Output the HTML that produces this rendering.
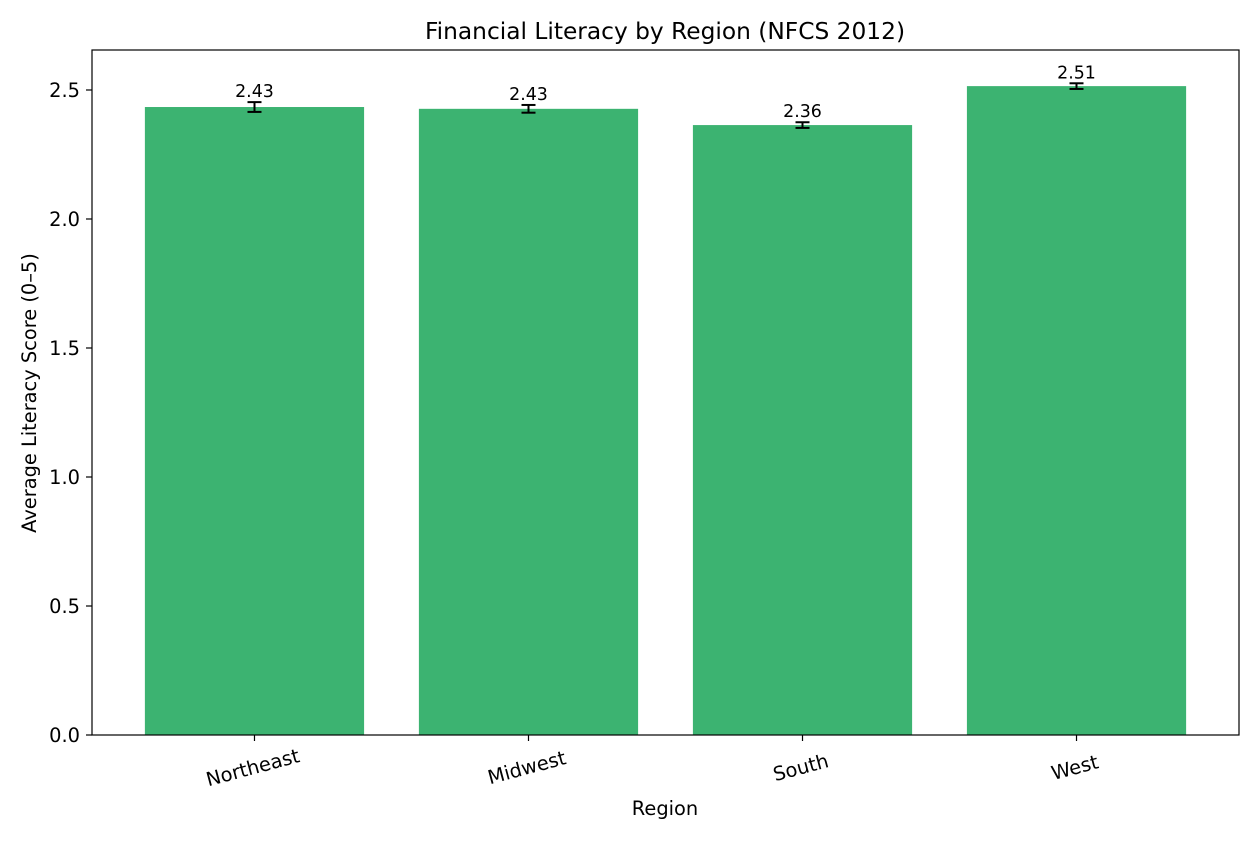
<!DOCTYPE html>
<html><head><meta charset="utf-8"><style>
body{margin:0;background:#fff;font-family:"DejaVu Sans",sans-serif;}
svg text{font-family:"DejaVu Sans","Liberation Sans",sans-serif;}
</style></head><body>
<svg id="chart" width="1260" height="840" xmlns="http://www.w3.org/2000/svg">
<rect width="1260" height="840" fill="#fff"/>
<text x="665" y="39" font-size="23.3" text-anchor="middle">Financial Literacy by Region (NFCS 2012)</text>
<g id="plot"></g>
<text x="665" y="815" font-size="19.4" text-anchor="middle">Region</text>
<text transform="translate(36,393) rotate(-90)" font-size="19.4" text-anchor="middle">Average Literacy Score (0–5)</text>
</svg>
<script>
const categories=["Northeast","Midwest","South","West"];
const values=[2.434,2.427,2.364,2.515];
const errors=[0.019,0.015,0.011,0.011];
const labels=["2.43","2.43","2.36","2.51"];
const yTicks=[0,0.5,1.0,1.5,2.0,2.5];
const yTickLabels=["0.0","0.5","1.0","1.5","2.0","2.5"];
const L=92,R=1239,T=50,B=735,ymax=2.655,xmin=-0.593,xmax=3.593;
const NS="http://www.w3.org/2000/svg";
const g=document.getElementById('plot');
function y(v){return B-(v/ymax)*(B-T);}
function x(i){return L+(i-xmin)/(xmax-xmin)*(R-L);}
const bw=0.8*(x(1)-x(0));
function el(t,a,p){const e=document.createElementNS(NS,t);for(const k in a)e.setAttribute(k,a[k]);(p||g).appendChild(e);return e;}
categories.forEach((c,i)=>{
 const b=el('rect',{x:x(i)-bw/2,y:y(values[i]),width:bw,height:B-y(values[i]),fill:'#3cb371'});
 
 
 const eg=el('g',{stroke:'#000','stroke-width':2});
 
 
 const t1=y(values[i]+errors[i]),t2=y(values[i]-errors[i]);
 el('line',{x1:x(i),x2:x(i),y1:t1,y2:t2},eg);
 el('line',{x1:x(i)-7,x2:x(i)+7,y1:t1,y2:t1},eg);
 el('line',{x1:x(i)-7,x2:x(i)+7,y1:t2,y2:t2},eg);
 const lt=el('text',{x:x(i),y:t1-5,'font-size':17.4,'text-anchor':'middle'});
 lt.textContent=labels[i];
 
 
 el('line',{x1:x(i),x2:x(i),y1:B,y2:B+6,stroke:'#000','stroke-width':1.2});
 const xt=el('text',{'font-size':19.4,'text-anchor':'middle',transform:`translate(${x(i)},${B+39}) rotate(-15)`});
 xt.textContent=c;
 
 
});
yTicks.forEach((v,i)=>{
 el('line',{x1:L-6,x2:L,y1:y(v),y2:y(v),stroke:'#000','stroke-width':1.2});
 const t=el('text',{x:L-12,y:y(v)+7,'font-size':19.4,'text-anchor':'end'});
 t.textContent=yTickLabels[i];
 
 
});
const fr=el('rect',{x:L,y:T,width:R-L,height:B-T,fill:'none',stroke:'#000','stroke-width':1.2});


</script>
</body></html>
